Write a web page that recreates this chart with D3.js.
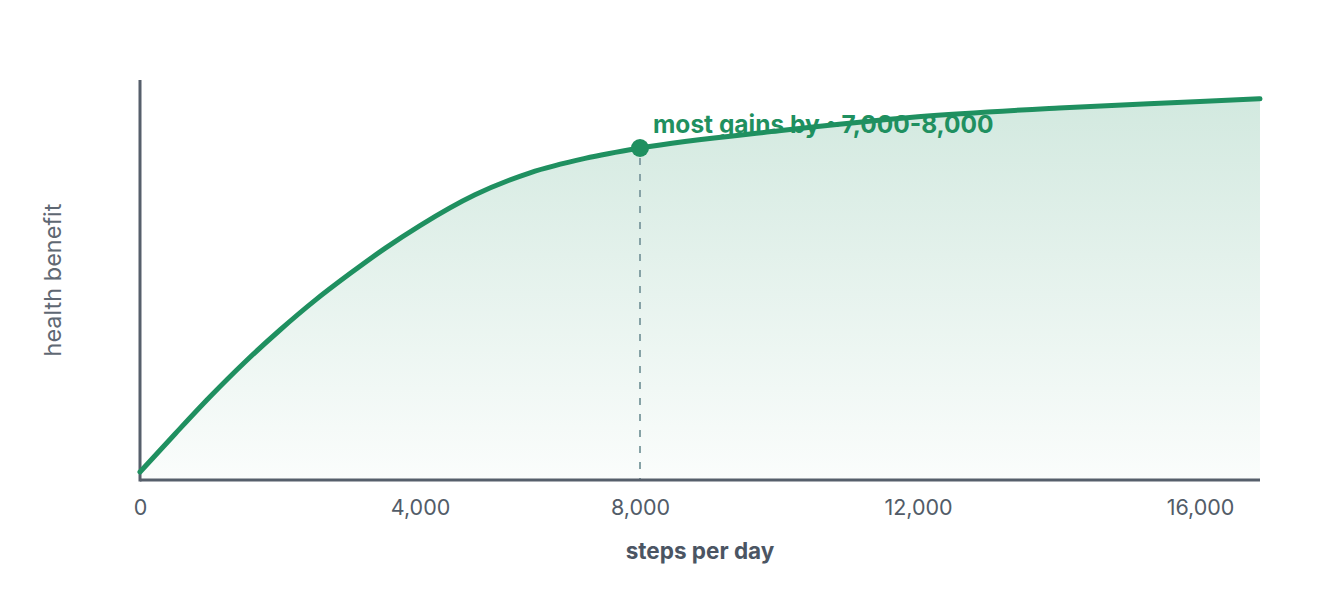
<!DOCTYPE html>
<html lang="en">
<head>
<meta charset="UTF-8">
<title>Steps per day vs health benefit</title>
<script src="https://d3js.org/d3.v7.min.js"></script>
<style>
    body { margin: 0; background: #fff; }
    text { font-family: Inter, "Noto Sans", sans-serif; }
</style>
</head>
<body>
<div id="chart"></div>
<script>
    // steps per day (x) and relative health benefit (y, 0..1)
    const steps   = [0, 500, 1000, 1500, 2000, 2500, 3000, 3500, 4000, 5000, 6000, 7000, 8000, 10000, 12000, 14000, 16000, 17000];
    const benefit = [0.02, 0.115, 0.208, 0.295, 0.375, 0.449, 0.516, 0.579, 0.636, 0.713, 0.768, 0.804, 0.83, 0.873, 0.908, 0.93, 0.946, 0.953];
    const tickValues = [0, 4000, 8000, 12000, 16000];
    const markerSteps = 8000;
    const markerLabel = "most gains by ~7,000-8,000";

    const width = 1320, height = 600;
    const green = "#1f9060";
    const axisColor = "#565f6b";

    const data = steps.map((s, i) => ({ s: s, b: benefit[i] }));

    const svg = d3.select("#chart").append("svg")
        .attr("width", width)
        .attr("height", height);

    // the picture's tick spacing is not even, so use a piecewise scale
    const x = d3.scaleLinear()
        .domain([0, 4000, 8000, 12000, 16000, 17000])
        .range([140, 420, 640, 918, 1200, 1260]);
    const y = d3.scaleLinear().domain([0, 1]).range([480, 80]);

    // gradient under the curve
    const grad = svg.append("defs").append("linearGradient")
        .attr("id", "fade")
        .attr("gradientUnits", "userSpaceOnUse")
        .attr("x1", 0).attr("x2", 0)
        .attr("y1", y(0.96)).attr("y2", y(0));
    grad.append("stop").attr("offset", "0%").attr("stop-color", green).attr("stop-opacity", 0.2);
    grad.append("stop").attr("offset", "100%").attr("stop-color", green).attr("stop-opacity", 0.02);

    const area = d3.area()
        .x(d => x(d.s))
        .y0(y(0))
        .y1(d => y(d.b))
        .curve(d3.curveMonotoneX);

    svg.append("path")
        .datum(data)
        .attr("d", area)
        .attr("fill", "url(#fade)");

    // dashed drop line from the marker
    const markerB = benefit[steps.indexOf(markerSteps)];
    svg.append("line")
        .attr("x1", x(markerSteps)).attr("x2", x(markerSteps))
        .attr("y1", y(markerB) + 10).attr("y2", y(0))
        .attr("stroke", "#86a2a6")
        .attr("stroke-width", 2)
        .attr("stroke-dasharray", "7,9");

    // annotation (sits under the line)
    svg.append("text")
        .attr("x", x(markerSteps) + 13)
        .attr("y", 133)
        .attr("fill", green)
        .attr("font-size", 24.5)
        .attr("font-weight", 700)
        .text(markerLabel);

    // axes
    const xAxis = svg.append("g")
        .attr("transform", `translate(0,${y(0)})`)
        .call(d3.axisBottom(x).tickValues(tickValues).tickSize(0).tickPadding(20).tickFormat(d3.format(",")));
    xAxis.select(".domain")
        .attr("d", `M${x(0)},0H${x(17000)}`)
        .attr("stroke", axisColor)
        .attr("stroke-width", 3);
    xAxis.selectAll(".tick text")
        .attr("font-family", "Inter, sans-serif")
        .attr("font-size", 21.5)
        .attr("fill", "#525c68");

    svg.append("line")
        .attr("x1", x(0)).attr("x2", x(0))
        .attr("y1", y(1)).attr("y2", y(0) + 1.5)
        .attr("stroke", axisColor)
        .attr("stroke-width", 3);

    // curve
    const line = d3.line()
        .x(d => x(d.s))
        .y(d => y(d.b))
        .curve(d3.curveMonotoneX);

    svg.append("path")
        .datum(data)
        .attr("d", line)
        .attr("fill", "none")
        .attr("stroke", green)
        .attr("stroke-width", 5)
        .attr("stroke-linecap", "round");

    svg.append("circle")
        .attr("cx", x(markerSteps))
        .attr("cy", y(markerB))
        .attr("r", 9)
        .attr("fill", green);

    // axis titles
    svg.append("text")
        .attr("x", 700)
        .attr("y", 559)
        .attr("text-anchor", "middle")
        .attr("font-size", 22.5)
        .attr("font-weight", 700)
        .attr("fill", "#4b5563")
        .text("steps per day");

    svg.append("text")
        .attr("transform", `translate(61,280) rotate(-90)`)
        .attr("text-anchor", "middle")
        .attr("font-size", 23.5)
        .attr("fill", "#5f6873")
        .text("health benefit");
</script>
</body>
</html>
